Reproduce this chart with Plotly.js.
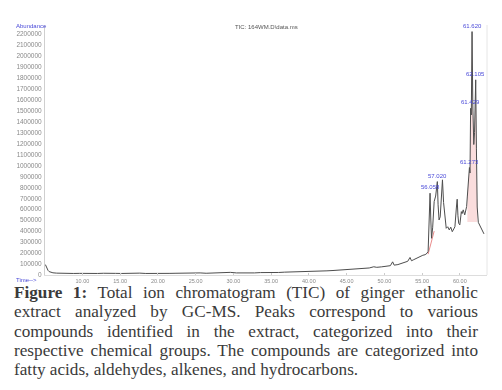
<!DOCTYPE html>
<html>
<head>
<meta charset="utf-8">
<script src="https://cdn.plot.ly/plotly-3.0.1.min.js"></script>
<style>
  html, body { margin: 0; padding: 0; background: #ffffff; }
  body { width: 502px; height: 390px; position: relative; overflow: hidden; }
  #chart { position: absolute; left: 0; top: 0; width: 502px; height: 390px; filter: blur(0.35px); }
  #caption {
    position: absolute; left: 14px; top: 283px; width: 464px;
    font-family: "Liberation Serif", "DejaVu Serif", serif;
    font-size: 17.2px; line-height: 19.25px; color: #3a3a3a;
  }
  #caption .j { text-align: justify; text-align-last: justify; white-space: nowrap; }
  #caption div { white-space: nowrap; }
</style>
</head>
<body>
<div id="chart"></div>
<div id="caption"></div>
<script>
// Retention time (min) and total ion abundance of the chromatogram trace
const retentionTime = [
  5.10, 5.20, 5.30, 5.45, 5.60, 5.80, 6.10, 6.60, 7.20, 8.00,
  8.80, 9.60, 10.40, 11.20, 12.00, 12.80, 13.60, 14.40, 15.20, 16.00,
  16.80, 17.60, 18.40, 19.20, 20.00, 20.80, 21.60, 22.40, 23.20, 24.00,
  24.80, 25.60, 26.40, 27.20, 28.00, 28.80, 29.60, 30.40, 31.20, 32.00,
  32.80, 33.60, 34.40, 35.20, 36.00, 36.80, 37.60, 38.40, 39.20, 40.00,
  40.80, 41.60, 42.40, 43.20, 44.00, 44.80, 45.60, 46.40, 47.20, 48.00,
  48.60, 49.00, 49.60, 50.20, 50.80, 51.10, 51.30, 51.80, 52.30, 52.70,
  53.10, 53.40, 53.60, 53.90, 54.20, 54.50, 54.80, 55.10, 55.40, 55.65,
  55.80, 55.95, 56.058, 56.15, 56.25, 56.40, 56.60, 56.80, 57.020, 57.12,
  57.25, 57.40, 57.55, 57.70, 57.85, 58.00, 58.20, 58.40, 58.60, 58.80,
  59.00, 59.20, 59.35, 59.55, 59.65, 59.75, 59.85, 60.00, 60.20, 60.30,
  60.45, 60.65, 60.80, 60.90, 61.00, 61.15, 61.273, 61.35, 61.429, 61.52,
  61.620, 61.72, 61.85, 61.95, 62.105, 62.20, 62.30, 62.45, 62.60, 62.80,
  63.00, 63.20
];
const abundance = [
  95000, 78000, 60000, 42000, 31000, 24000, 20000, 17000, 15000, 16000,
  14000, 15000, 13000, 15000, 14000, 16000, 13000, 15000, 14000, 16000,
  15000, 17000, 14000, 16000, 15000, 17000, 15000, 16000, 18000, 15000,
  17000, 19000, 16000, 18000, 17000, 20000, 24000, 19000, 18000, 21000,
  19000, 22000, 21000, 24000, 23000, 26000, 27000, 29000, 30000, 32000,
  34000, 36000, 38000, 41000, 44000, 47000, 50000, 55000, 60000, 64000,
  75000, 70000, 74000, 80000, 85000, 120000, 90000, 95000, 105000, 115000,
  125000, 160000, 130000, 140000, 150000, 165000, 175000, 180000, 185000, 198000,
  215000, 450000, 746000, 520000, 335000, 430000, 670000, 720000, 852000, 640000,
  502000, 530000, 720000, 868000, 660000, 520000, 426000, 440000, 411000, 436000,
  395000, 420000, 440000, 620000, 691000, 540000, 472000, 457000, 578000, 560000,
  594000, 548000, 590000, 624000, 720000, 900000, 980000, 930000, 1520000, 1460000,
  2220000, 1550000, 1190000, 1300000, 1780000, 1150000, 620000, 480000, 460000, 430000,
  405000, 375000
];

// Labelled peaks (retention time, apex abundance)
const peakTimes = [56.058, 57.020, 61.273, 61.429, 61.620, 62.105];
const peakValues = [746000, 852000, 980000, 1520000, 2220000, 1780000];

// Integration baselines
const integStartEnd = [61.00, 62.30];
const integLevel = [484000, 484000];
const earlyBaseTimes = [55.80, 56.60];
const earlyBaseValues = [190000, 400000];

// Axis ticks
const yTicks = [];
for (let v = 0; v <= 2200000; v += 100000) yTicks.push(v);
const xTicks = [10, 15, 20, 25, 30, 35, 40, 45, 50, 55, 60];

// Caption lines
const captionLines = [
  "<b>Figure 1:</b> Total ion chromatogram (TIC) of ginger ethanolic",
  "extract analyzed by GC-MS. Peaks correspond to various",
  "compounds identified in the extract, categorized into their",
  "respective chemical groups. The compounds are categorized into",
  "fatty acids, aldehydes, alkenes, and hydrocarbons."
];

// Shaded area under the late peak cluster
const shadeT = [], shadeV = [];
retentionTime.forEach((t, i) => {
  if (t >= integStartEnd[0] && t <= integStartEnd[1]) { shadeT.push(t); shadeV.push(abundance[i]); }
});

const traces = [
  { x: integStartEnd, y: integLevel, type: 'scatter', mode: 'lines',
    line: { width: 0, color: 'rgba(0,0,0,0)' }, hoverinfo: 'skip', showlegend: false },
  { x: shadeT, y: shadeV, type: 'scatter', mode: 'lines', fill: 'tonexty',
    fillcolor: 'rgba(240,150,150,0.32)', line: { width: 0, color: 'rgba(0,0,0,0)' },
    hoverinfo: 'skip', showlegend: false },
  { x: earlyBaseTimes, y: earlyBaseValues, type: 'scatter', mode: 'lines',
    line: { width: 1, color: 'rgba(225,100,100,0.75)' }, showlegend: false },
  { x: retentionTime, y: abundance, type: 'scatter', mode: 'lines',
    line: { width: 1, color: '#4d4d4d' }, showlegend: false }
];

const blue = '#4a4ad8';
const annotations = peakTimes.map((t, i) => ({
  x: t, y: peakValues[i], xref: 'x', yref: 'y', text: t.toFixed(3),
  showarrow: false, yanchor: 'bottom', yshift: 1,
  font: { family: 'Liberation Sans, Arial, sans-serif', size: 6, color: blue }
}));
annotations.push(
  { xref: 'paper', yref: 'paper', x: -0.070, y: 0.996, xanchor: 'left', yanchor: 'middle',
    text: 'Abundance', showarrow: false,
    font: { family: 'Liberation Sans, Arial, sans-serif', size: 6, color: blue } },
  { xref: 'paper', yref: 'paper', x: -0.070, y: -0.02, xanchor: 'left', yanchor: 'middle',
    text: 'Time-->', showarrow: false,
    font: { family: 'Liberation Sans, Arial, sans-serif', size: 6, color: blue } },
  { xref: 'paper', yref: 'paper', x: 0.5, y: 0.992, xanchor: 'center', yanchor: 'middle',
    text: 'TIC: 164WM.D\\data.ms', showarrow: false,
    font: { family: 'Liberation Sans, Arial, sans-serif', size: 6, color: '#555555' } }
);

const layout = {
  width: 502, height: 390,
  margin: { l: 45, r: 15, t: 25, b: 115, pad: 0 },
  paper_bgcolor: '#ffffff', plot_bgcolor: '#ffffff',
  showlegend: false,
  xaxis: {
    range: [5.05, 63.6], tickvals: xTicks, tickformat: '.2f',
    showgrid: false, zeroline: false, showline: true, linecolor: '#dddddd', linewidth: 1,
    ticks: 'inside', ticklen: 2, tickcolor: '#cccccc',
    tickfont: { family: 'Liberation Sans, Arial, sans-serif', size: 5.5, color: '#8a8a8a' }
  },
  yaxis: {
    range: [0, 2280000], tickvals: yTicks, tickformat: 'd',
    showgrid: false, zeroline: false, showline: true, linecolor: '#cfcfcf', linewidth: 1,
    ticks: '', ticklabelstandoff: 1,
    tickfont: { family: 'Liberation Sans, Arial, sans-serif', size: 6.5, color: '#8a8a8a' }
  },
  shapes: [
    { type: 'line', xref: 'paper', yref: 'paper', x0: 1, x1: 1, y0: 0, y1: 1,
      line: { color: '#e6e6e6', width: 1 } }
  ],
  annotations: annotations
};

Plotly.newPlot('chart', traces, layout, { displayModeBar: false, staticPlot: true });

const cap = document.getElementById('caption');
captionLines.forEach((line, i) => {
  const d = document.createElement('div');
  if (i < captionLines.length - 1) d.className = 'j';
  d.innerHTML = line;
  cap.appendChild(d);
});
</script>
</body>
</html>
